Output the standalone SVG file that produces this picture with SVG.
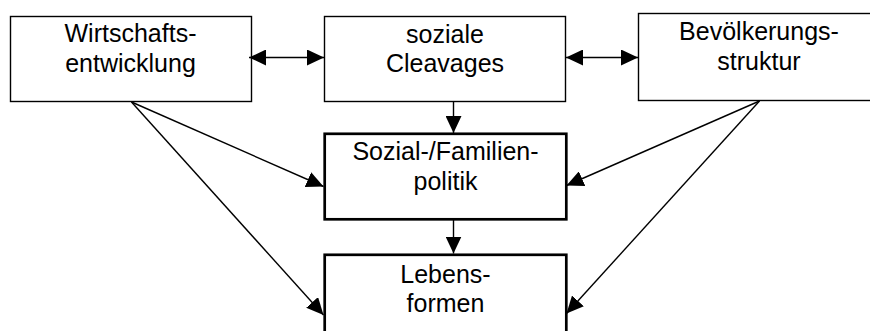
<svg xmlns="http://www.w3.org/2000/svg" width="870" height="331" viewBox="0 0 870 331">
<style>
.box{fill:#fff;stroke:#000;stroke-width:1.4}
.tbox{fill:#fff;stroke:#000;stroke-width:2.7}
.lbl{font-family:"Liberation Sans",Arial,sans-serif;font-size:25px;fill:#000;text-anchor:middle}
.con{stroke:#000;stroke-width:1.4;fill:none}
</style>
<defs>
<marker id="ah" markerUnits="userSpaceOnUse" markerWidth="18" markerHeight="16" refX="17" refY="8" orient="auto-start-reverse" viewBox="0 0 18 16">
<path d="M0,0 L17,8 L0,16 z" fill="#000"/>
</marker>
</defs>
<g id="node-wirtschaft">
<rect class="box" x="10.5" y="16.5" width="241" height="85"/>
<text class="lbl" x="130.5" y="42">Wirtschafts-</text>
<text class="lbl" x="130.5" y="72">entwicklung</text>
</g>
<g id="node-cleavages">
<rect class="box" x="324.5" y="16.5" width="241" height="85"/>
<text class="lbl" x="445" y="43">soziale</text>
<text class="lbl" x="445" y="72">Cleavages</text>
</g>
<g id="node-bevoelkerung">
<rect class="box" x="638.5" y="13.5" width="241" height="87"/>
<text class="lbl" x="759" y="39.5">Bevölkerungs-</text>
<text class="lbl" x="759" y="69.5">struktur</text>
</g>
<g id="node-sozialpolitik">
<rect class="tbox" x="324.7" y="133.8" width="241.6" height="85.5"/>
<text class="lbl" x="445.5" y="160">Sozial-/Familien-</text>
<text class="lbl" x="445.5" y="189.5">politik</text>
</g>
<g id="node-lebensformen">
<rect class="tbox" x="324.7" y="254.8" width="241.6" height="90"/>
<text class="lbl" x="445.5" y="282.5">Lebens-</text>
<text class="lbl" x="445.5" y="311.5">formen</text>
</g>
<g id="connectors">
<line class="con" x1="249" y1="57.5" x2="324" y2="57.5" marker-start="url(#ah)" marker-end="url(#ah)"/>
<line class="con" x1="566" y1="57.5" x2="638" y2="57.5" marker-start="url(#ah)" marker-end="url(#ah)"/>
<line class="con" x1="453.5" y1="101.5" x2="453.5" y2="133" marker-end="url(#ah)"/>
<line class="con" x1="453.5" y1="220" x2="453.5" y2="253.5" marker-end="url(#ah)"/>
<line class="con" x1="131.5" y1="102" x2="323.5" y2="186.5" marker-end="url(#ah)"/>
<line class="con" x1="131.5" y1="102" x2="323.5" y2="315" marker-end="url(#ah)"/>
<line class="con" x1="759.5" y1="101" x2="566.5" y2="185.5" marker-end="url(#ah)"/>
<line class="con" x1="759.5" y1="101" x2="566.5" y2="313.5" marker-end="url(#ah)"/>
</g>
</svg>
